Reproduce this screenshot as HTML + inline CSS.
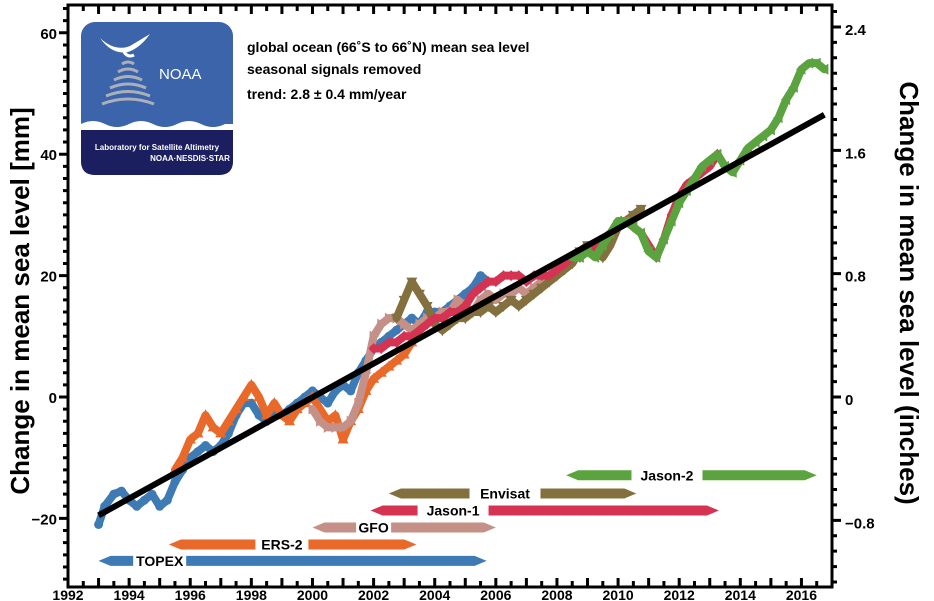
<!DOCTYPE html>
<html><head><meta charset="utf-8"><style>
body{margin:0;background:#fff;}
svg{display:block;font-family:"Liberation Sans",Arial,sans-serif;}
</style></head><body>
<svg id="chart" width="934" height="601" viewBox="0 0 934 601" xmlns="http://www.w3.org/2000/svg">
<g id="bars"></g>
<g id="series"></g>
<g id="axes"></g>
<g>
<rect x="81" y="22" width="152" height="153" rx="14" fill="#3b64aa"/>
<path d="M81 128 L233 128 L233 161 Q233 175 219 175 L95 175 Q81 175 81 161 Z" fill="#1b1f5f"/>
<path d="M81 124 Q93 118 105 124 T129 124 T153 124 T177 124 T201 124 T225 124 L233 124 L233 130 L81 130 Z" fill="#fff"/>
<path d="M100 38 Q115 52 130 46 Q140 40 150 34 Q140 48 128 52 Q112 55 100 38 Z" fill="#fff"/>
<path d="M124 52 Q128 58 134 55" stroke="#fff" stroke-width="3" fill="none"/>
<g fill="none" stroke="#aab0bb" stroke-width="3">
<path d="M122 64 Q128 60 134 64"/><path d="M118 72 Q128 66 138 72"/><path d="M114 80 Q128 73 142 80"/><path d="M110 88 Q128 80 146 88"/><path d="M106 96 Q128 87 150 96"/><path d="M102 104 Q128 94 154 104"/>
</g>
<text x="159" y="79" fill="#fff" font-size="15">NOAA</text>
<text x="157" y="150" fill="#fff" font-size="8" font-weight="bold" text-anchor="middle">Laboratory for Satellite Altimetry</text>
<text x="190" y="161" fill="#fff" font-size="8" font-weight="bold" text-anchor="middle">NOAA·NESDIS·STAR</text>
</g>
<g font-size="14" font-weight="bold">
<text x="247" y="52">global ocean (66˚S to 66˚N) mean sea level</text>
<text x="247" y="74">seasonal signals removed</text>
<text x="247" y="99">trend:  2.8 ± 0.4 mm/year</text>
</g>
<text transform="translate(29,301) rotate(-90)" text-anchor="middle" font-size="26" font-weight="bold">Change in mean sea level [mm]</text>
<text transform="translate(900,293) rotate(90)" text-anchor="middle" font-size="26" font-weight="bold">Change in mean sea level (inches)</text>
</svg>
<script>
const topexX=[1993.0,1993.2,1993.5,1993.75,1994.0,1994.25,1994.5,1994.75,1995.0,1995.25,1995.5,1995.75,1996.0,1996.25,1996.5,1996.75,1997.0,1997.25,1997.5,1997.75,1998.0,1998.25,1998.5,1998.75,1999.0,1999.25,1999.5,1999.75,2000.0,2000.25,2000.5,2000.75,2001.0,2001.25,2001.5,2001.75,2002.0,2002.25,2002.5,2002.75,2003.0,2003.25,2003.5,2003.75,2004.0,2004.25,2004.5,2004.75,2005.0,2005.25,2005.5,2005.75];
const topexY=[-21,-18,-16,-15.5,-17,-18,-17,-16,-18,-17,-14,-12,-10,-9,-8,-9,-8,-6,-3,-1,-1,-3,-4,-2,-3,-2,-1,0,1,0,-1,1,2,1,4,6,8,9,10,11,12,13,12,14,14,14,15,16,17,18,20,19];
const ersX=[1995.5,1995.75,1996.0,1996.25,1996.5,1996.75,1997.0,1997.25,1997.5,1997.75,1998.0,1998.25,1998.5,1998.75,1999.0,1999.25,1999.5,1999.75,2000.0,2000.25,2000.5,2000.75,2001.0,2001.25,2001.5,2001.75,2002.0,2002.25,2002.5,2002.75,2003.0,2003.25];
const ersY=[-12,-10,-7,-6,-3,-5,-6,-4,-2,0,2,0,-3,-1,-3,-4,-2,-1,0,-2,-4,-3,-7,-4,-2,1,3,4,5,6,7,9];
const gfoX=[2000.0,2000.25,2000.5,2000.75,2001.0,2001.25,2001.5,2001.75,2002.0,2002.25,2002.5,2002.75,2003.0,2003.25,2003.5,2003.75,2004.0,2004.25,2004.5,2004.75,2005.0,2005.25,2005.5,2005.75,2006.0,2006.25,2006.5,2006.75,2007.0,2007.25,2007.5,2007.75,2008.0];
const gfoY=[-2,-4,-5,-5,-5,-4,-1,4,10,12,13,13,12,11,12,13,13,14,14,16,15,14,16,17,16,17,17,18,17,18,19,19,20];
const j1X=[2002.0,2002.25,2002.5,2002.75,2003.0,2003.25,2003.5,2003.75,2004.0,2004.25,2004.5,2004.75,2005.0,2005.25,2005.5,2005.75,2006.0,2006.25,2006.5,2006.75,2007.0,2007.25,2007.5,2007.75,2008.0,2008.25,2008.5,2008.75,2009.0,2009.25,2009.5,2009.75,2010.0,2010.25,2010.5,2010.75,2011.0,2011.25,2011.5,2011.75,2012.0,2012.25,2012.5,2012.75,2013.0,2013.25];
const j1Y=[8,8,9,9,10,10,11,12,13,13,14,14,15,17,18,19,19,20,20,20,19,20,20,20,21,22,23,23,24,25,26,27,28,29,28,27,25,23,26,30,33,35,36,37,38,40];
const envX=[2002.75,2003.0,2003.25,2003.5,2003.75,2004.0,2004.25,2004.5,2004.75,2005.0,2005.25,2005.5,2005.75,2006.0,2006.25,2006.5,2006.75,2007.0,2007.25,2007.5,2007.75,2008.0,2008.25,2008.5,2008.75,2009.0,2009.25,2009.5,2009.75,2010.0,2010.25,2010.5,2010.75];
const envY=[13,16,19,17,15,12,11,12,13,13,14,14,15,14,15,16,15,16,17,18,19,20,21,22,24,25,24,23,25,28,29,30,31];
const j2X=[2008.5,2008.75,2009.0,2009.25,2009.5,2009.75,2010.0,2010.25,2010.5,2010.75,2011.0,2011.25,2011.5,2011.75,2012.0,2012.25,2012.5,2012.75,2013.0,2013.25,2013.5,2013.75,2014.0,2014.25,2014.5,2014.75,2015.0,2015.25,2015.5,2015.75,2016.0,2016.25,2016.5,2016.75];
const j2Y=[23,23,24,23,25,27,29,29,28,27,24,23,26,29,32,34,36,38,39,40,38,37,39,41,42,43,44,46,49,51,54,55,55,54];
const trendX=[1993.0,2016.75];
const trendY=[-19.5,46.5];
const missionNames=["TOPEX","ERS-2","GFO","Jason-1","Envisat","Jason-2"];
const missionStart=[1993.0,1995.3,2000.0,2001.9,2002.5,2008.3];
const missionEnd=[2005.7,2003.4,2006.0,2013.3,2010.6,2016.5];
const missionLevel=[-27.0,-24.3,-21.5,-18.7,-15.9,-12.9];
const missionLabelX=[1995.0,1999.0,2002.0,2004.6,2006.3,2011.6];
const xTicks=[1992,1994,1996,1998,2000,2002,2004,2006,2008,2010,2012,2014,2016];
const yTicks=[-20,0,20,40,60];
const yTicksIn=[-0.8,0,0.8,1.6,2.4];

const L=68,R=832,T=5,B=587;
const X=v=>L+(v-1992)*(R-L)/25;
const Y=v=>397-v*6.07;
const NS="http://www.w3.org/2000/svg";
function mk(tag,parent,attrs){const e=document.createElementNS(NS,tag);for(const k in attrs)e.setAttribute(k,attrs[k]);parent.appendChild(e);return e;}
const bars=document.getElementById('bars'),ser=document.getElementById('series'),ax=document.getElementById('axes');
const mcol=["#3e7bb5","#e8692a","#c49087","#d63352","#84703e","#5aa33e"];
missionNames.forEach((n,i)=>{
  const x1=X(missionStart[i]),x2=X(missionEnd[i]),y=Y(missionLevel[i]),h=4;
  const p=mk('polygon',bars,{points:`${x1},${y} ${x1+12},${y-h-1} ${x2-12},${y-h-1} ${x2},${y} ${x2-12},${y+h+1} ${x1+12},${y+h+1}`,fill:mcol[i]});
  
  
  const lx=X(missionLabelX[i]);
  const w=n.length*9+8;
  const r=mk('rect',bars,{x:lx-w/2,y:y-9,width:w,height:18,fill:'#fff'});
  
  
  const t=mk('text',bars,{x:lx,y:y+5,'text-anchor':'middle','font-size':14,'font-weight':'bold'});
  t.textContent=n;
  
  
});
function draw(xs,ys,shape,col,name){
  const g=mk('g',ser,{fill:col});
  
  
  const pl=mk('polyline',g,{points:xs.map((xv,i)=>X(xv)+','+Y(ys[i])).join(' '),fill:'none',stroke:col,'stroke-width':8,'stroke-linejoin':'round','stroke-linecap':'round'});
  
  
  xs.forEach((xv,i)=>{
    const x=X(xv),y=Y(ys[i]);let e;
    if(shape==='c')e=mk('circle',g,{cx:x,cy:y,r:4.5});
    else if(shape==='up')e=mk('polygon',g,{points:`${x},${y-6} ${x-5.5},${y+4} ${x+5.5},${y+4}`});
    else if(shape==='dn')e=mk('polygon',g,{points:`${x},${y+6} ${x-5.5},${y-4} ${x+5.5},${y-4}`});
    else if(shape==='d')e=mk('polygon',g,{points:`${x},${y-5.5} ${x+5},${y} ${x},${y+5.5} ${x-5},${y}`});
    else if(shape==='r')e=mk('polygon',g,{points:`${x+5.5},${y} ${x-4},${y-5.5} ${x-4},${y+5.5}`});
    else e=mk('polygon',g,{points:`${x-5.5},${y} ${x+4},${y-5.5} ${x+4},${y+5.5}`});
    
    
  });
}
draw(topexX,topexY,'c','#3e7bb5','topex-series');
draw(ersX,ersY,'up','#e8692a','ers2-series');
draw(gfoX,gfoY,'r','#c49087','gfo-series');
draw(envX,envY,'dn','#84703e','envisat-series');
draw(j1X,j1Y,'d','#d63352','jason1-series');
draw(j2X,j2Y,'l','#5aa33e','jason2-series');
const tl=mk('line',ser,{x1:X(trendX[0]),y1:Y(trendY[0]),x2:X(trendX[1]),y2:Y(trendY[1]),stroke:'#000','stroke-width':6});


const fr=mk('rect',ax,{x:L,y:T,width:R-L,height:B-T,fill:'none',stroke:'#000','stroke-width':3});


let path='';
for(let v=1992;v<=2017.001;v+=0.5){const x=X(v);const big=Math.abs(v-Math.round(v))<0.01;path+=`M${x},${B} v${big?-9:-6} M${x},${T} v${big?9:6} `;}
for(let v=-30;v<=64;v+=2){const y=Y(v);const big=v%20===0;path+=`M${L},${y} h${big?-9:-5} `;}
for(let v=-1.2;v<=2.55;v+=0.1){const y=Y(v*25.4);const big=Math.abs(v*10-Math.round(v*10/8)*8)<0.01;path+=`M${R},${y} h${big?9:5} `;}
const tk=mk('path',ax,{d:path,stroke:'#000','stroke-width':3,fill:'none'});


xTicks.forEach(v=>{const t=mk('text',ax,{x:X(v),y:600,'text-anchor':'middle','font-size':14,'font-weight':'bold'});t.textContent=v;

});
yTicks.forEach(v=>{const t=mk('text',ax,{x:57,y:Y(v)+6,'text-anchor':'end','font-size':15,'font-weight':'bold'});t.textContent=v<0?'−'+(-v):v;

});
yTicksIn.forEach(v=>{const t=mk('text',ax,{x:845,y:Y(v*25.4)+8,'font-size':15,'font-weight':'bold'});t.textContent=v<0?'−'+(-v):(v===0?'0':v.toFixed(1));

});
</script>
</body></html>
